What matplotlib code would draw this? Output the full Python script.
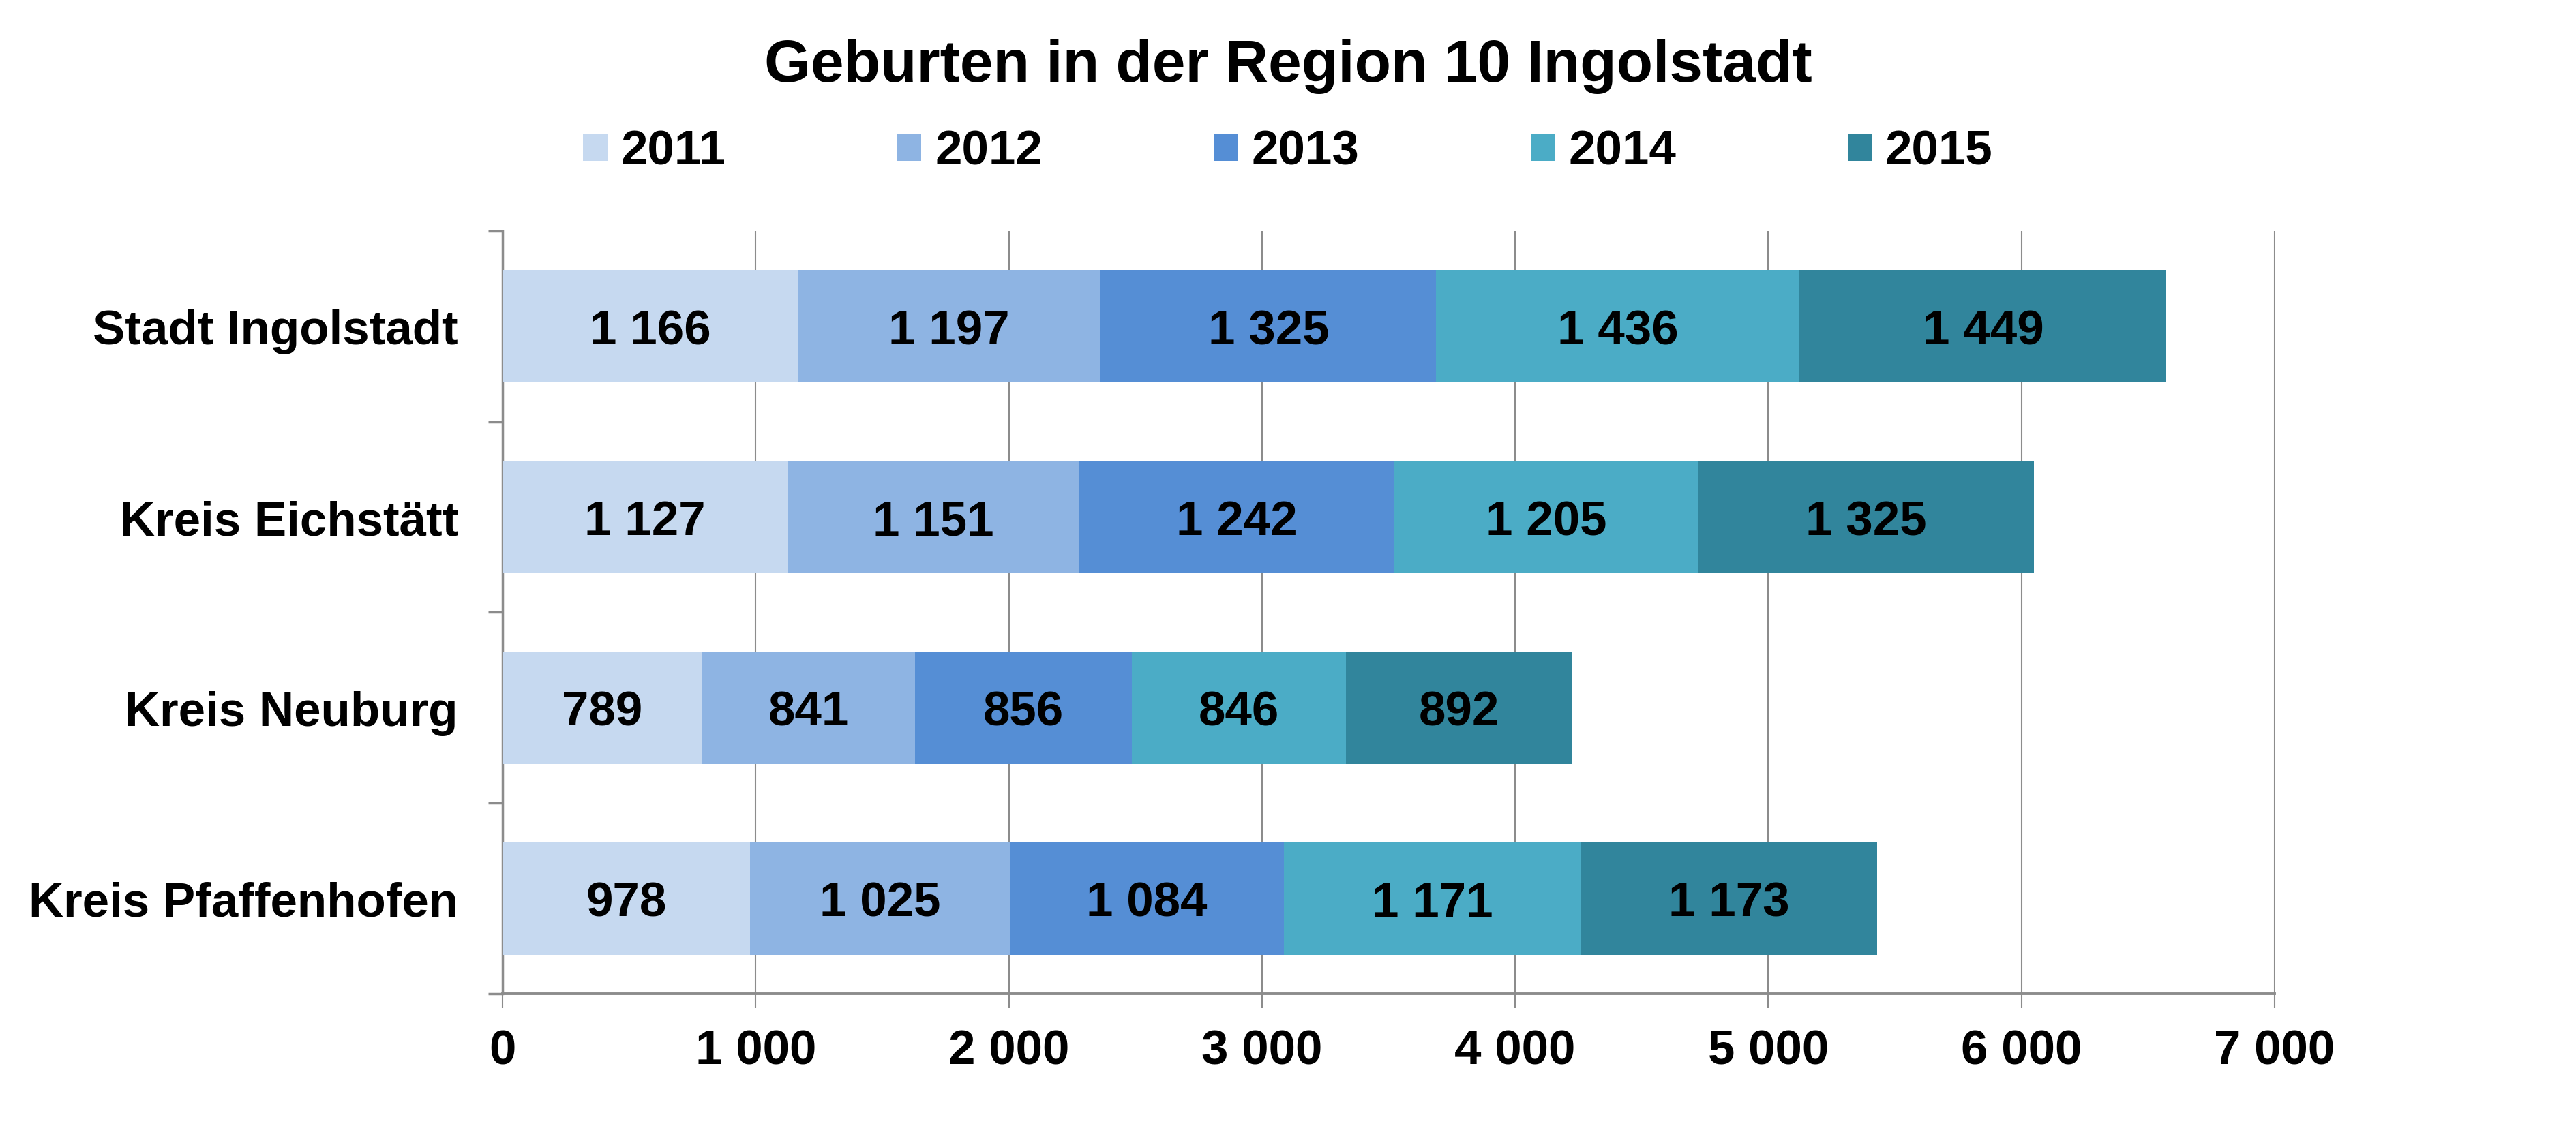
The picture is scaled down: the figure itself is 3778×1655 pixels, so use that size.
import matplotlib.pyplot as plt
from matplotlib.patches import Patch

plt.rcParams["font.family"] = ["Liberation Sans", "DejaVu Sans"]
plt.rcParams["font.weight"] = "bold"

regions = ["Stadt Ingolstadt", "Kreis Eichstätt", "Kreis Neuburg", "Kreis Pfaffenhofen"]
years = ["2011", "2012", "2013", "2014", "2015"]
births_2011 = [1166, 1127, 789, 978]
births_2012 = [1197, 1151, 841, 1025]
births_2013 = [1325, 1242, 856, 1084]
births_2014 = [1436, 1205, 846, 1171]
births_2015 = [1449, 1325, 892, 1173]
x_ticks = [0, 1000, 2000, 3000, 4000, 5000, 6000, 7000]

colors = ["#C6D9F0", "#8EB4E3", "#558ED5", "#4BACC6", "#31859C"]
grey = "#8C8C8C"
fs = 51


def fmt(v):
    # German style thousands separator (space)
    return f"{v:,}".replace(",", " ")


fig = plt.figure(figsize=(37.78, 16.56), dpi=100)
ax = fig.add_axes([0.1951, 0.1190, 0.6879, 0.6757])

series = [births_2011, births_2012, births_2013, births_2014, births_2015]
left = [0] * len(regions)
ypos = list(range(len(regions)))
for vals, year, col in zip(series, years, colors):
    bars = ax.barh(ypos, vals, left=left, height=0.59, color=col, label=year, zorder=3)
    texts = ax.bar_label(bars, labels=[fmt(v) for v in vals], label_type="center",
                         fontsize=fs, fontweight="bold", color="black")
    for t in texts:
        t.set_va("center_baseline")
    left = [a + b for a, b in zip(left, vals)]

ax.set_xlim(0, 7000)
ax.set_ylim(len(regions) - 0.5, -0.5)
ax.set_xticks(x_ticks)
ax.set_xticklabels([fmt(t) for t in x_ticks], fontsize=fs, fontweight="bold")
ax.set_yticks(ypos)
ax.set_yticklabels(regions, fontsize=fs, fontweight="bold", va="center_baseline")
ax.set_yticks([i - 0.5 for i in range(len(regions) + 1)], minor=True)

ax.tick_params(axis="y", which="major", length=0, pad=47)
ax.tick_params(axis="y", which="minor", length=15, width=2.5, color=grey)
ax.tick_params(axis="x", which="major", length=15, width=1.5, color=grey, pad=22)

ax.grid(axis="x", color=grey, linewidth=1.5, zorder=0)
for s in ["top", "right"]:
    ax.spines[s].set_visible(False)
ax.spines["left"].set_color(grey)
ax.spines["left"].set_linewidth(2.5)
ax.spines["bottom"].set_color(grey)
ax.spines["bottom"].set_linewidth(2.8)

fig.text(0.5, 1 - 120 / 1656, "Geburten in der Region 10 Ingolstadt",
         ha="center", va="baseline", fontsize=63, fontweight="bold")

handles = [Patch(facecolor=c, edgecolor="none") for c in colors]
fig.legend(handles, years, loc="center", bbox_to_anchor=(0.5, 1 - 224 / 1656),
           ncol=5, frameon=False, fontsize=fs, handlelength=0.5, handleheight=0.5,
           handletextpad=0.28, columnspacing=3.55, borderpad=0)

fig.savefig("out.png", dpi=100)
